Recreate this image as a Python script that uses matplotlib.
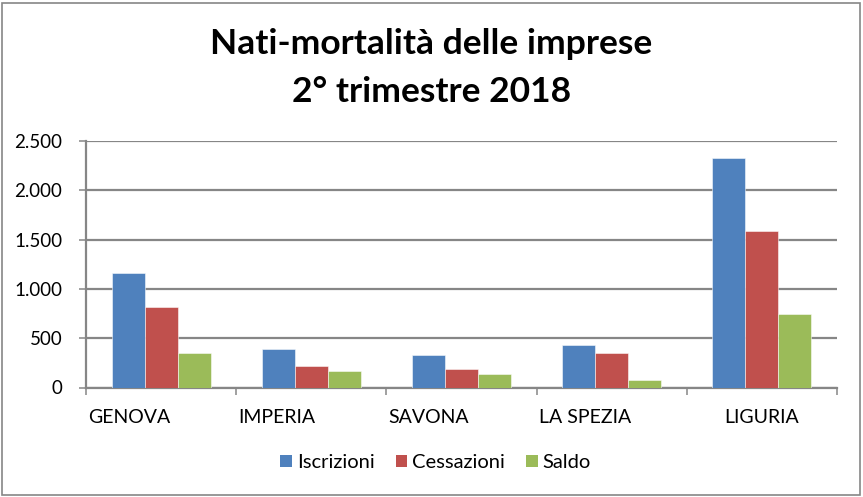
import matplotlib
matplotlib.use("Agg")
import matplotlib.pyplot as plt
import matplotlib.transforms as mtransforms
from matplotlib.patches import Patch, Rectangle
import numpy as np

categories = ["GENOVA", "IMPERIA", "SAVONA", "LA SPEZIA", "LIGURIA"]
iscrizioni = [1165, 394, 329, 435, 2330]
cessazioni = [813, 219, 185, 350, 1585]
saldo = [347, 165, 137, 75, 742]
series_names = ["Iscrizioni", "Cessazioni", "Saldo"]
y_ticks = [0, 500, 1000, 1500, 2000, 2500]

colors = ["#4F81BD", "#C0504D", "#9BBB59"]
grey = "#868686"
plt.rcParams["font.family"] = ["Lato", "DejaVu Sans"]

fig = plt.figure(figsize=(8.63, 4.97), dpi=100)
ax = fig.add_axes([86 / 863, (497 - 387.5) / 497, (837 - 86) / 863, 246.5 / 497])

x = np.arange(len(categories))
w = 0.22
for k, vals in enumerate([iscrizioni, cessazioni, saldo]):
    ax.bar(x + (k - 1) * w, vals, width=w, color=colors[k],
           edgecolor=(1, 1, 1, 0.6), linewidth=0.6, zorder=3)

ax.set_xlim(-0.5, len(categories) - 0.5)
ax.set_ylim(0, 2500)
ax.set_yticks(y_ticks)
ax.set_yticklabels([f"{v:,}".replace(",", ".") for v in y_ticks], fontsize=13.5)
ax.yaxis.grid(True, color=grey, linewidth=1.6, zorder=0)
ax.tick_params(axis="y", length=5, width=1.1, color=grey, pad=12)

ax.set_xticks(np.arange(len(categories) + 1) - 0.5)
ax.set_xticklabels([])
ax.tick_params(axis="x", length=5, width=1.1, color=grey)

for s in ["top", "right"]:
    ax.spines[s].set_visible(False)
for s in ["left", "bottom"]:
    ax.spines[s].set_color(grey)
    ax.spines[s].set_linewidth(1.6)

trans = mtransforms.blended_transform_factory(ax.transData, ax.transAxes)
for i, name in enumerate(categories):
    if i < len(categories) - 1:
        ax.text(i - 0.485, -0.144, name, transform=trans, ha="left", va="baseline", fontsize=14)
    else:
        ax.text(i, -0.144, name, transform=trans, ha="center", va="baseline", fontsize=14)

fig.text(0.5, 0.8907, "Nati-mortalità delle imprese", ha="center", va="baseline",
         fontsize=25.5, fontweight="bold")
fig.text(0.5, 0.7948, "2° trimestre 2018", ha="center", va="baseline",
         fontsize=25.5, fontweight="bold")

handles = [Patch(facecolor=c, edgecolor="none") for c in colors]
fig.legend(handles, series_names, loc="center", bbox_to_anchor=(435.5 / 863, (497 - 462.5) / 497),
           ncol=3, frameon=False, fontsize=14.5, handlelength=0.57, handleheight=0.57,
           handletextpad=0.25, columnspacing=1.05)

fig.add_artist(Rectangle((2 / 863, 2 / 497), 858 / 863, 492 / 497, transform=fig.transFigure,
                         fill=False, edgecolor=grey, linewidth=1.2))

fig.savefig("out.png", dpi=100)
